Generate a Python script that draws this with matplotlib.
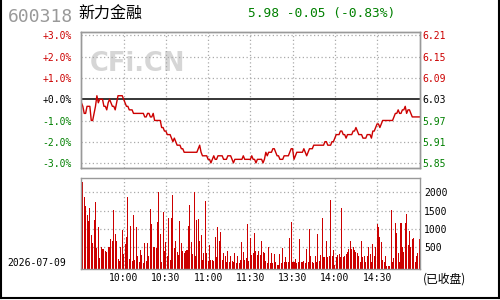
import numpy as np
import matplotlib
matplotlib.use("Agg")
import matplotlib.pyplot as plt
from matplotlib.lines import Line2D

# stock info
code = "600318"
name = "新力金融"
last_close = 6.03
quote = "5.98 -0.05 (-0.83%)"
date_str = "2026-07-09"

# one price per trading minute (0 = 9:30, 120 = 11:30/13:00, 240 = 15:00)
prices = [
    6.02, 6.01, 5.99, 5.99, 6.01, 6.01, 6.01, 5.97, 5.97, 5.99, 6.01,
    6.04, 6.02, 6.03, 6.03, 6.03, 6.01, 6.01, 6.00, 6.02, 6.03,
    6.02, 6.01, 6.01, 6.00, 6.02, 6.04, 6.04, 6.04, 6.04, 6.03,
    6.02, 6.01, 6.01, 6.00, 6.00, 6.00, 5.99, 5.99, 5.99, 5.99,
    5.99, 5.99, 5.99, 5.99, 5.98, 5.98, 5.99, 5.99, 5.98, 5.98,
    5.99, 5.97, 5.97, 5.97, 5.97, 5.97, 5.95, 5.95, 5.94, 5.94,
    5.93, 5.93, 5.93, 5.92, 5.91, 5.92, 5.91, 5.90, 5.90, 5.90,
    5.89, 5.89, 5.88, 5.88, 5.88, 5.88, 5.88, 5.88, 5.88, 5.88,
    5.88, 5.88, 5.89, 5.90, 5.88, 5.87, 5.87, 5.87, 5.87, 5.86,
    5.86, 5.85, 5.86, 5.87, 5.86, 5.86, 5.87, 5.87, 5.87, 5.87,
    5.86, 5.86, 5.86, 5.87, 5.87, 5.87, 5.86, 5.85, 5.86, 5.86,
    5.86, 5.86, 5.86, 5.86, 5.87, 5.86, 5.86, 5.86, 5.86, 5.86,
    5.87, 5.86, 5.86, 5.85, 5.86, 5.86, 5.86, 5.86, 5.85, 5.86,
    5.88, 5.87, 5.88, 5.88, 5.88, 5.89, 5.89, 5.88, 5.87, 5.87,
    5.86, 5.86, 5.86, 5.87, 5.87, 5.87, 5.87, 5.88, 5.89, 5.89,
    5.86, 5.87, 5.88, 5.88, 5.88, 5.88, 5.88, 5.89, 5.88, 5.87,
    5.88, 5.89, 5.89, 5.89, 5.90, 5.90, 5.90, 5.90, 5.90, 5.90,
    5.90, 5.90, 5.91, 5.91, 5.90, 5.90, 5.90, 5.91, 5.91, 5.92,
    5.93, 5.93, 5.93, 5.94, 5.94, 5.93, 5.93, 5.92, 5.93, 5.93,
    5.93, 5.93, 5.94, 5.94, 5.95, 5.94, 5.93, 5.93, 5.93, 5.92,
    5.92, 5.92, 5.93, 5.93, 5.93, 5.92, 5.94, 5.94, 5.95, 5.96,
    5.96, 5.95, 5.96, 5.97, 5.97, 5.97, 5.97, 5.97, 5.97, 5.97,
    5.97, 5.98, 5.99, 5.99, 6.00, 5.99, 5.99, 6.00, 6.00, 6.01,
    5.99, 6.00, 6.00, 5.99, 5.98, 5.98, 5.98, 5.98, 5.98, 5.98,
]

# volume per minute (lots)
volumes = [
    20, 2290, 1860, 1630, 1380, 1220, 1560, 840, 610, 1250,
    1730, 470, 1050, 200, 510, 460, 460, 410, 380, 510,
    510, 730, 680, 1520, 860, 680, 180, 130, 510, 970,
    320, 590, 790, 1860, 180, 1080, 130, 1380, 160, 1050,
    260, 100, 430, 290, 80, 610, 130, 610, 260, 1550,
    1140, 510, 510, 470, 1200, 2000, 860, 100, 1470, 400,
    650, 260, 1310, 160, 1310, 1930, 470, 680, 380, 290,
    1220, 630, 400, 340, 410, 430, 1080,
    1650, 650, 320, 2000, 260, 1250, 1270, 680, 840, 150,
    350, 1760, 340, 130, 560, 150, 150, 130, 770, 240,
    1050, 680, 930, 160, 350, 270, 100, 410, 110, 260,
    130, 100, 340, 80, 260, 80, 160, 650, 380, 150, 220,
    1130, 130, 750, 290, 350, 900, 410, 290, 410, 290,
    670, 380, 350, 130, 80, 520, 80, 350, 80, 320,
    100, 20, 20, 320, 80, 470, 100, 230, 100, 90,
    750, 1200, 100, 110, 170, 60, 100, 720, 100, 110,
    130, 60, 460, 110, 990, 260, 100, 60, 260, 100,
    860, 120, 290, 1310, 230, 230, 670, 230, 250, 1790,
    260, 430, 10, 230, 290, 320, 230, 1560, 230, 260,
    320, 380, 460, 670, 460, 520, 430, 380, 350, 260,
    110, 670, 230, 250, 100, 260, 520, 320, 100, 590,
    250, 520, 1140, 1050, 790, 650, 150, 100, 260, 0, 0, 0, 1520,
    100, 200, 1170, 880, 340, 100, 1170, 520, 380, 1170,
    1410, 550, 950, 510, 720, 750, 100, 250, 340, 720,
]

pct_ticks = [3, 2, 1, 0, -1, -2, -3]
time_ticks = [30, 60, 90, 120, 150, 180, 210]
time_labels = ["10:00", "10:30", "11:00", "11:30", "13:30", "14:00", "14:30"]
vol_ticks = [500, 1000, 1500, 2000]

RED = "#cc0000"
GREEN = "#008000"
GRID = "#aaaaaa"
MONO = "DejaVu Sans Mono"
CJK = ["Noto Sans CJK SC", "DejaVu Sans"]

minutes = np.arange(len(prices))

fig = plt.figure(figsize=(5, 3), dpi=100)
W, H = 500.0, 300.0

def box(x0, y0, x1, y1):
    return [x0 / W, 1 - y1 / H, (x1 - x0) / W, (y1 - y0) / H]

# ---- price panel
ax = fig.add_axes(box(80.7, 31.7, 420, 168.3))
ymin = last_close * (1 - 3.24 / 100)
ymax = last_close * (1 + 3.17 / 100)
ax.set_xlim(-0.5, 240.5)
ax.set_ylim(ymin, ymax)

tick_prices = [last_close * (1 + p / 100) for p in pct_ticks]
for p, tp in zip(pct_ticks, tick_prices):
    if p == 0:
        ax.axhline(tp, color="black", lw=1.1, zorder=2)
    else:
        ax.axhline(tp, color=GRID, lw=0.9, ls=(0, (1, 2)), zorder=1)
for t in time_ticks:
    ax.axvline(t, color=GRID, lw=0.9, ls=(0, (1, 2)), zorder=1)

# watermark
ax.text(0.167, 0.76, "CFi.CN", transform=ax.transAxes, ha="center", va="center",
        fontsize=18.5, fontweight="bold", color="#d6d6d6", family="DejaVu Sans", zorder=0)

ax.plot(minutes, prices, color=RED, lw=1.0, zorder=3)

def tick_color(p):
    return RED if p > 0 else ("black" if p == 0 else GREEN)

ax.set_xticks([])
ax.set_yticks(tick_prices)
ax.set_yticklabels([("+" if p >= 0 else "-") + "%.1f%%" % abs(p) for p in pct_ticks],
                   family=MONO, fontsize=7)
for lab, p in zip(ax.get_yticklabels(), pct_ticks):
    lab.set_color(tick_color(p))
ax.tick_params(axis="y", length=0, pad=6.2)

ax2 = ax.twinx()
ax2.set_ylim(ymin, ymax)
ax2.set_yticks(tick_prices)
ax2.set_yticklabels(["%.2f" % v for v in tick_prices], family=MONO, fontsize=7)
for lab, p in zip(ax2.get_yticklabels(), pct_ticks):
    lab.set_color(tick_color(p))
ax2.tick_params(axis="y", length=0, pad=1.5)

for a in (ax, ax2):
    for s in a.spines.values():
        s.set_color("#999999")
        s.set_linewidth(1.0)

# ---- volume panel
vx = fig.add_axes(box(80.7, 178.3, 420, 269.3))
vbot = -100
vx.set_xlim(-0.5, 240.5)
vx.set_ylim(vbot, 2380)
for t in time_ticks:
    vx.axvline(t, color=GRID, lw=0.9, ls=(0, (1, 2)), zorder=1)
for v in vol_ticks:
    vx.axhline(v, color=GRID, lw=0.9, ls=(0, (1, 2)), zorder=1)
vx.bar(minutes, np.array(volumes) - vbot, bottom=vbot, width=0.72,
       color=RED, linewidth=0, antialiased=False, zorder=2)

vx.set_xticks(time_ticks)
vx.set_xticklabels(time_labels, family=MONO, fontsize=7)
vx.tick_params(axis="x", length=0, pad=3)
vx.yaxis.tick_right()
vx.set_yticks(vol_ticks)
vx.set_yticklabels([str(v) for v in vol_ticks], family=MONO, fontsize=7)
vx.tick_params(axis="y", length=0, pad=3)
for s in vx.spines.values():
    s.set_color("#999999")
    s.set_linewidth(1.0)

# ---- header and footer texts
fig.text(8 / W, 1 - 16.5 / H, code, family=MONO, fontsize=13, color="#999999",
         ha="left", va="center")
fig.text(78 / W, 1 - 14.5 / H, name, family=CJK, fontsize=11.5, color="black",
         ha="left", va="center")
fig.text(248 / W, 1 - 14 / H, quote, family=MONO, fontsize=9.3, color=GREEN,
         ha="left", va="center")
fig.text(7 / W, 1 - 262.5 / H, date_str, family=MONO, fontsize=7, color="black",
         ha="left", va="center")
fig.text(423 / W, 1 - 279 / H, "(已收盘)", family=CJK, fontsize=8.5, color="black",
         ha="left", va="center")

# outer frame
fig.add_artist(Line2D([0.8 / W, 0.8 / W], [2 / H, 1], color="black", lw=1.5,
                      transform=fig.transFigure))
fig.add_artist(Line2D([498.5 / W, 498.5 / W], [2 / H, 1], color="black", lw=1.5,
                      transform=fig.transFigure))
fig.add_artist(Line2D([0, 1], [2 / H, 2 / H], color="black", lw=1.5,
                      transform=fig.transFigure))

fig.savefig("out.png", dpi=100)
